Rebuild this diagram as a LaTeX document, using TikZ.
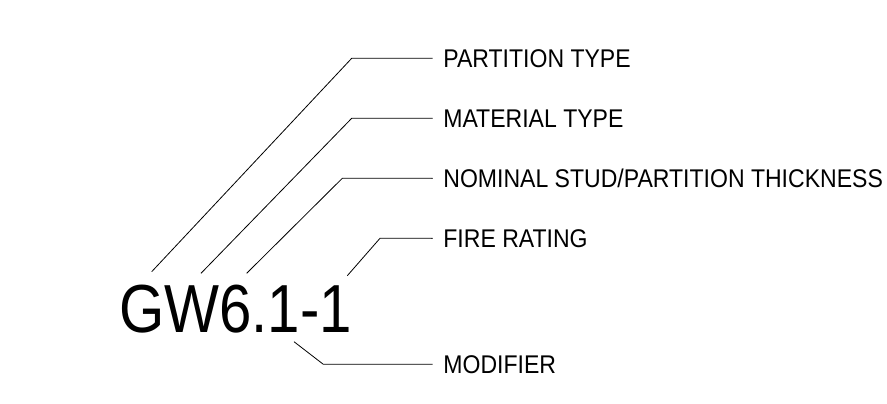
\documentclass[tikz,border=0pt]{standalone}
\usepackage{fontspec}
\setmainfont{Liberation Sans}
\tikzset{
  lbl/.style={anchor=base west,inner sep=0pt,xscale=0.9,font=\fontsize{25.6}{28}\selectfont,text height=18.3pt,text depth=0pt},
  tag/.style={anchor=base west,inner sep=0pt,xscale=0.856,font=\fontsize{68}{72}\selectfont},
  leader/.style={line width=0.8pt}
}
\begin{document}
\begin{tikzpicture}[x=1pt,y=-1pt]
\useasboundingbox (0,0) rectangle (887,404);

\node[tag] (tag) at (118.9,332.7) {GW6.1-1};

\node[lbl] (ptype) at (443.2,67.5) {PARTITION TYPE};
\node[lbl] (mtype) at (443.2,127.5) {MATERIAL TYPE};
\node[lbl] (thick) at (443.2,187.5) {NOMINAL STUD/PARTITION THICKNESS};
\node[lbl] (fire) at (443.2,247.5) {FIRE RATING};
\node[lbl] (modif) at (443.2,373.4) {MODIFIER};

\coordinate (g1) at (151.7,271.7);
\coordinate (g2) at (201,273.3);
\coordinate (g3) at (246.7,273.3);
\coordinate (g4) at (347.3,275.7);
\coordinate (g5) at (294,341.7);

\coordinate (e1) at (351.7,58.3);
\coordinate (e2) at (351.7,118.3);
\coordinate (e3) at (342.3,178.3);
\coordinate (e4) at (380,238.3);
\coordinate (e5) at (323.3,364.3);

\draw[leader] (g1) -- (e1) -- ([xshift=-10.5pt]ptype.west);
\draw[leader] (g2) -- (e2) -- ([xshift=-10.5pt]mtype.west);
\draw[leader] (g3) -- (e3) -- ([xshift=-10.5pt]thick.west);
\draw[leader] (g4) -- (e4) -- ([xshift=-10.5pt]fire.west);
\draw[leader] (g5) -- (e5) -- ([xshift=-10.5pt]modif.west);
\end{tikzpicture}
\end{document}
